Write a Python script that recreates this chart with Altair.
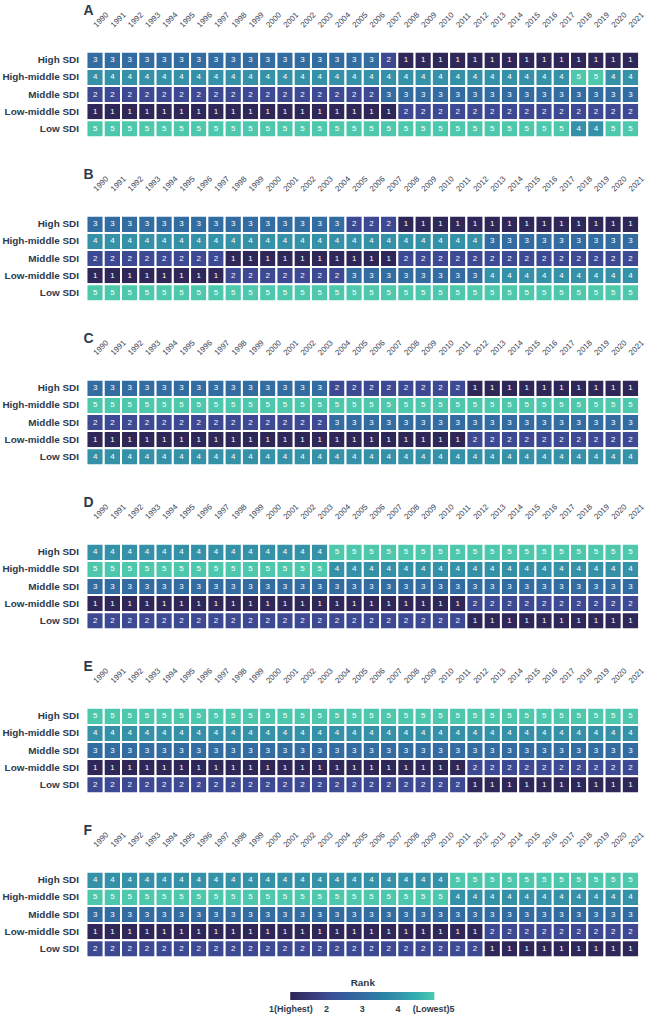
import altair as alt
import pandas as pd

# Tick labels / categories
years = [str(y) for y in range(1990, 2022)]
regions = ["High SDI", "High-middle SDI", "Middle SDI", "Low-middle SDI", "Low SDI"]
panel_letters = ["A", "B", "C", "D", "E", "F"]

# Ranks: one string per region, one digit per year 1990..2021
# (spaces only group the digits by ten for readability)
rank_A = [
    "3333333333 3333333211 1111111111 11",
    "4444444444 4444444444 4444444455 44",
    "2222222222 2222222333 3333333333 33",
    "1111111111 1111111122 2222222222 22",
    "5555555555 5555555555 5555555544 55",
]
rank_B = [
    "3333333333 3333322211 1111111111 11",
    "4444444444 4444444444 4443333333 33",
    "2222222211 1111111122 2222222222 22",
    "1111111122 2222233333 3334444444 44",
    "5555555555 5555555555 5555555555 55",
]
rank_C = [
    "3333333333 3333222222 2211111111 11",
    "5555555555 5555555555 5555555555 55",
    "2222222222 2222333333 3333333333 33",
    "1111111111 1111111111 1122222222 22",
    "4444444444 4444444444 4444444444 44",
]
rank_D = [
    "4444444444 4444555555 5555555555 55",
    "5555555555 5555444444 4444444444 44",
    "3333333333 3333333333 3333333333 33",
    "1111111111 1111111111 1122222222 22",
    "2222222222 2222222222 2211111111 11",
]
rank_E = [
    "5555555555 5555555555 5555555555 55",
    "4444444444 4444444444 4444444444 44",
    "3333333333 3333333333 3333333333 33",
    "1111111111 1111111111 1122222222 22",
    "2222222222 2222222222 2211111111 11",
]
rank_F = [
    "4444444444 4444444444 4555555555 55",
    "5555555555 5555555555 5444444444 44",
    "3333333333 3333333333 3333333333 33",
    "1111111111 1111111111 1112222222 22",
    "2222222222 2222222222 2221111111 11",
]
all_ranks = [rank_A, rank_B, rank_C, rank_D, rank_E, rank_F]

rank_values = [1, 2, 3, 4, 5]
rank_colors = ["#2f2657", "#3d4a93", "#336ca1", "#3491a8", "#50c9ad"]
# colour-scale stops: the end stops sit a hair outside 1 and 5 so that the
# legend centres its end labels ("1(Highest)", "(Lowest)5") on their positions
scale_stops = [0.98, 2, 3, 4, 5.02]

FONT = "Liberation Sans"
TEXT_DARK = "#2d3a4d"


def panel_frame(rows):
    recs = []
    for region, s in zip(regions, rows):
        digits = s.replace(" ", "")
        for year, d in zip(years, digits):
            recs.append({"year": year, "region": region, "rank": int(d)})
    return pd.DataFrame(recs)


rank_legend = alt.Legend(
    title="Rank",
    orient="none",
    direction="horizontal",
    legendX=205,
    legendY=107,
    gradientLength=145,
    gradientThickness=8,
    gradientStrokeWidth=0,
    values=rank_values,
    labelExpr="datum.value == 1 ? '1(Highest)' : datum.value == 5 ? '(Lowest)5' : datum.label",
    labelOverlap=False,
    labelOffset=5,
    labelFontSize=9,
    labelFontWeight="bold",
    labelColor=TEXT_DARK,
    labelFont=FONT,
    titleFont=FONT,
    titleFontSize=10,
    titleFontWeight="bold",
    titleColor=TEXT_DARK,
    titleAnchor="middle",
    titlePadding=4,
    padding=0,
)

panels = []
for i, (letter, rows) in enumerate(zip(panel_letters, all_ranks)):
    df = panel_frame(rows)
    is_last = i == len(panel_letters) - 1
    color_enc = alt.Color(
        "rank:Q",
        scale=alt.Scale(domain=scale_stops, range=rank_colors),
        legend=rank_legend if is_last else None,
    )
    base = alt.Chart(df).encode(
        x=alt.X(
            "year:O",
            sort=years,
            scale=alt.Scale(paddingInner=0, paddingOuter=0),
            axis=alt.Axis(
                orient="top",
                title=None,
                labelAngle=315,
                labelAlign="left",
                labelBaseline="middle",
                labelFontSize=8,
                labelFont=FONT,
                labelColor="#3a4456",
                labelPadding=26,
                ticks=False,
                domain=False,
                labelOverlap=False,
            ),
        ),
        y=alt.Y(
            "region:N",
            sort=regions,
            scale=alt.Scale(paddingInner=0, paddingOuter=0),
            axis=alt.Axis(
                title=None,
                labelFontSize=10,
                labelFontWeight="bold",
                labelFont=FONT,
                labelColor=TEXT_DARK,
                labelPadding=8,
                ticks=False,
                domain=False,
            ),
        ),
    )
    rect = base.mark_rect(stroke="white", strokeWidth=2).encode(color=color_enc)
    txt = base.mark_text(fontSize=8, color="white", font=FONT).encode(text="rank:Q")
    panel = alt.layer(rect, txt).properties(
        width=556,
        height=86,
        title=alt.TitleParams(
            letter,
            anchor="start",
            frame="group",
            fontSize=14,
            fontWeight="bold",
            font=FONT,
            color=TEXT_DARK,
            offset=-7,
            dx=-3,
        ),
    )
    panels.append(panel)

chart = (
    alt.vconcat(*panels, spacing=29)
    .resolve_scale(color="independent")
    .properties(padding={"left": 1, "top": 0, "right": 5, "bottom": 5})
    .configure_view(stroke=None)
    .configure_axis(grid=False)
)

chart.save("out.html", embed_options={"renderer": "svg", "actions": False})
